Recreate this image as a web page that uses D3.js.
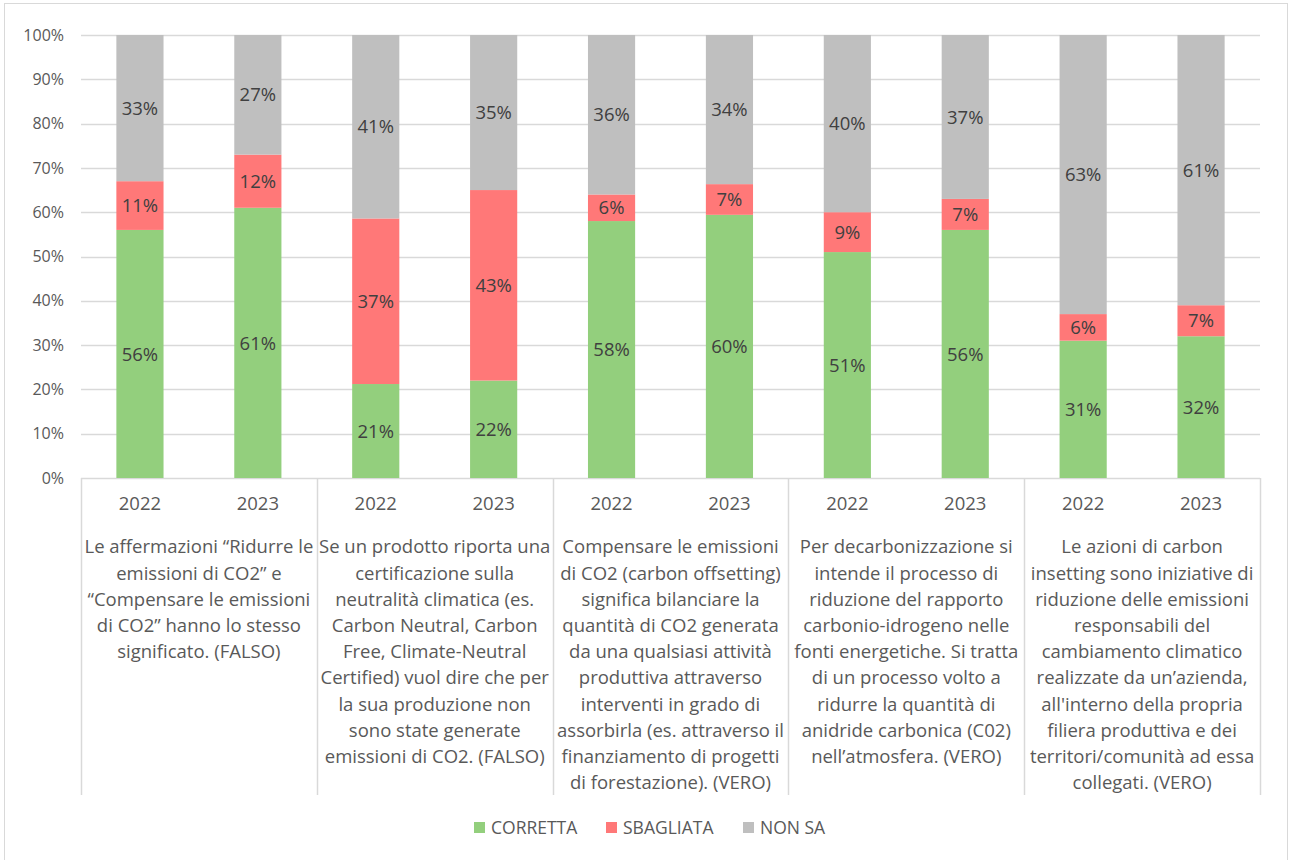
<!DOCTYPE html>
<html>
<head>
<meta charset="utf-8">
<script src="https://cdn.jsdelivr.net/npm/d3@7"></script>
<style>
  body { margin: 0; background: #fff; }
  svg { display: block; font-family: "Open Sans", sans-serif; }
</style>
</head>
<body>
<div id="chart"></div>
<script>
// 100% stacked bars: answers to 5 true/false statements, 2022 vs 2023

const years = ["2022", "2023"];
const seriesNames = ["CORRETTA", "SBAGLIATA", "NON SA"];
const seriesColors = ["#93cf7d", "#ff7878", "#bfbfbf"];

// one value per bar, in order: statement 1 (2022, 2023), statement 2 (2022, 2023), ...
const corretta  = [56, 61, 21, 22, 58, 60, 51, 56, 31, 32];
const sbagliata = [11, 12, 37, 43, 6, 7, 9, 7, 6, 7];
const nonSa     = [33, 27, 41, 35, 36, 34, 40, 37, 63, 61];

const yTicks = [0, 0.1, 0.2, 0.3, 0.4, 0.5, 0.6, 0.7, 0.8, 0.9, 1];

const statements = [
  ["Le affermazioni “Ridurre le", "emissioni di CO2” e", "“Compensare le emissioni",
   "di CO2” hanno lo stesso", "significato. (FALSO)"],
  ["Se un prodotto riporta una", "certificazione sulla", "neutralità climatica (es.",
   "Carbon Neutral, Carbon", "Free, Climate-Neutral", "Certified) vuol dire che per",
   "la sua produzione non", "sono state generate", "emissioni di CO2. (FALSO)"],
  ["Compensare le emissioni", "di CO2 (carbon offsetting)", "significa bilanciare la",
   "quantità di CO2 generata", "da una qualsiasi attività", "produttiva attraverso",
   "interventi in grado di", "assorbirla (es. attraverso il", "finanziamento di progetti",
   "di forestazione). (VERO)"],
  ["Per decarbonizzazione si", "intende il processo di", "riduzione del rapporto",
   "carbonio-idrogeno nelle", "fonti energetiche. Si tratta", "di un processo volto a",
   "ridurre la quantità di", "anidride carbonica (C02)", "nell’atmosfera. (VERO)"],
  ["Le azioni di carbon", "insetting sono iniziative di", "riduzione delle emissioni",
   "responsabili del", "cambiamento climatico", "realizzate da un’azienda,",
   "all'interno della propria", "filiera produttiva e dei", "territori/comunità ad essa",
   "collegati. (VERO)"]
];

const width = 1290, height = 860;
const plot = { left: 81, right: 1260, top: 35, bottom: 478 };
const axisBottom = 795;

const rows = corretta.map((c, i) => ({
  group: Math.floor(i / 2),
  year: years[i % 2],
  "CORRETTA": c,
  "SBAGLIATA": sbagliata[i],
  "NON SA": nonSa[i]
}));

const svg = d3.select("#chart").append("svg")
  .attr("width", width)
  .attr("height", height);

// chart frame
svg.append("rect")
  .attr("x", 4.5).attr("y", 3.5)
  .attr("width", 1283).attr("height", 870)
  .attr("fill", "#fff")
  .attr("stroke", "#d9d9d9");

const x0 = d3.scaleBand()
  .domain(d3.range(statements.length))
  .range([plot.left, plot.right]);

const x1 = d3.scaleBand()
  .domain(years)
  .range([0, x0.bandwidth()])
  .paddingInner(0.6)
  .paddingOuter(0.3);

const y = d3.scaleLinear().domain([0, 1]).range([plot.bottom, plot.top]);

const color = d3.scaleOrdinal().domain(seriesNames).range(seriesColors);

// gridlines
svg.append("g")
  .selectAll("line")
  .data(yTicks)
  .join("line")
  .attr("x1", plot.left).attr("x2", plot.right)
  .attr("y1", d => Math.round(y(d)) + 0.5).attr("y2", d => Math.round(y(d)) + 0.5)
  .attr("stroke", "#d9d9d9")
  .attr("stroke-width", 1.5);

// y tick labels
svg.append("g")
  .selectAll("text")
  .data(yTicks)
  .join("text")
  .attr("x", 64)
  .attr("y", d => y(d))
  .attr("dy", "0.35em")
  .attr("text-anchor", "end")
  .attr("fill", "#595959")
  .style("font-size", "16px")
  .text(d3.format(".0%"));

// stacked bars
const stack = d3.stack().keys(seriesNames).offset(d3.stackOffsetExpand);
const layers = stack(rows);

const barX = d => x0(d.data.group) + x1(d.data.year);

const layer = svg.append("g")
  .selectAll("g")
  .data(layers)
  .join("g")
  .attr("fill", d => color(d.key));

layer.selectAll("rect")
  .data(d => d)
  .join("rect")
  .attr("x", barX)
  .attr("width", x1.bandwidth())
  .attr("y", d => y(d[1]))
  .attr("height", d => y(d[0]) - y(d[1]));

// value labels
const labels = svg.append("g");
layers.forEach(l => {
  labels.selectAll(null)
    .data(l)
    .join("text")
    .attr("x", d => barX(d) + x1.bandwidth() / 2)
    .attr("y", d => y((d[0] + d[1]) / 2))
    .attr("dy", "0.36em")
    .attr("text-anchor", "middle")
    .attr("fill", "#404040")
    .style("font-size", "18.5px")
    .text(d => d.data[l.key] + "%");
});

// category axis: separators
const seps = d3.range(statements.length + 1).map(i => i < statements.length ? x0(i) : plot.right);
svg.append("g")
  .selectAll("line")
  .data(seps)
  .join("line")
  .attr("x1", d => Math.round(d) + 0.5).attr("x2", d => Math.round(d) + 0.5)
  .attr("y1", plot.bottom).attr("y2", axisBottom)
  .attr("stroke", "#d9d9d9")
  .attr("stroke-width", 1.5);

// year labels
const yearLabels = svg.append("g");
statements.forEach((s, g) => {
  yearLabels.selectAll(null)
    .data(years)
    .join("text")
    .attr("x", d => x0(g) + x1(d) + x1.bandwidth() / 2)
    .attr("y", 504)
    .attr("dy", "0.35em")
    .attr("text-anchor", "middle")
    .attr("fill", "#595959")
    .style("font-size", "18.5px")
    .text(d => d);
});

// statement labels
svg.append("g")
  .selectAll("text")
  .data(statements)
  .join("text")
  .attr("text-anchor", "middle")
  .attr("fill", "#595959")
  .style("font-size", "18.5px")
  .each(function (lines, g) {
    d3.select(this).selectAll("tspan")
      .data(lines)
      .join("tspan")
      .attr("x", x0(g) + x0.bandwidth() / 2)
      .attr("y", (d, i) => 547 + i * 26.2)
      .attr("dy", "0.35em")
      .text(d => d);
  });

// legend
const legendItems = [
  { name: "CORRETTA", x: 474 },
  { name: "SBAGLIATA", x: 606 },
  { name: "NON SA", x: 743 }
];
const legend = svg.append("g");
const li = legend.selectAll("g")
  .data(legendItems)
  .join("g")
  .attr("transform", d => `translate(${d.x},828)`);
li.append("rect")
  .attr("x", 0).attr("y", -6)
  .attr("width", 11).attr("height", 11)
  .attr("fill", d => color(d.name));
li.append("text")
  .attr("x", 17)
  .attr("y", 0)
  .attr("dy", "0.35em")
  .attr("fill", "#595959")
  .style("font-size", "17.5px")
  .text(d => d.name);
</script>
</body>
</html>
